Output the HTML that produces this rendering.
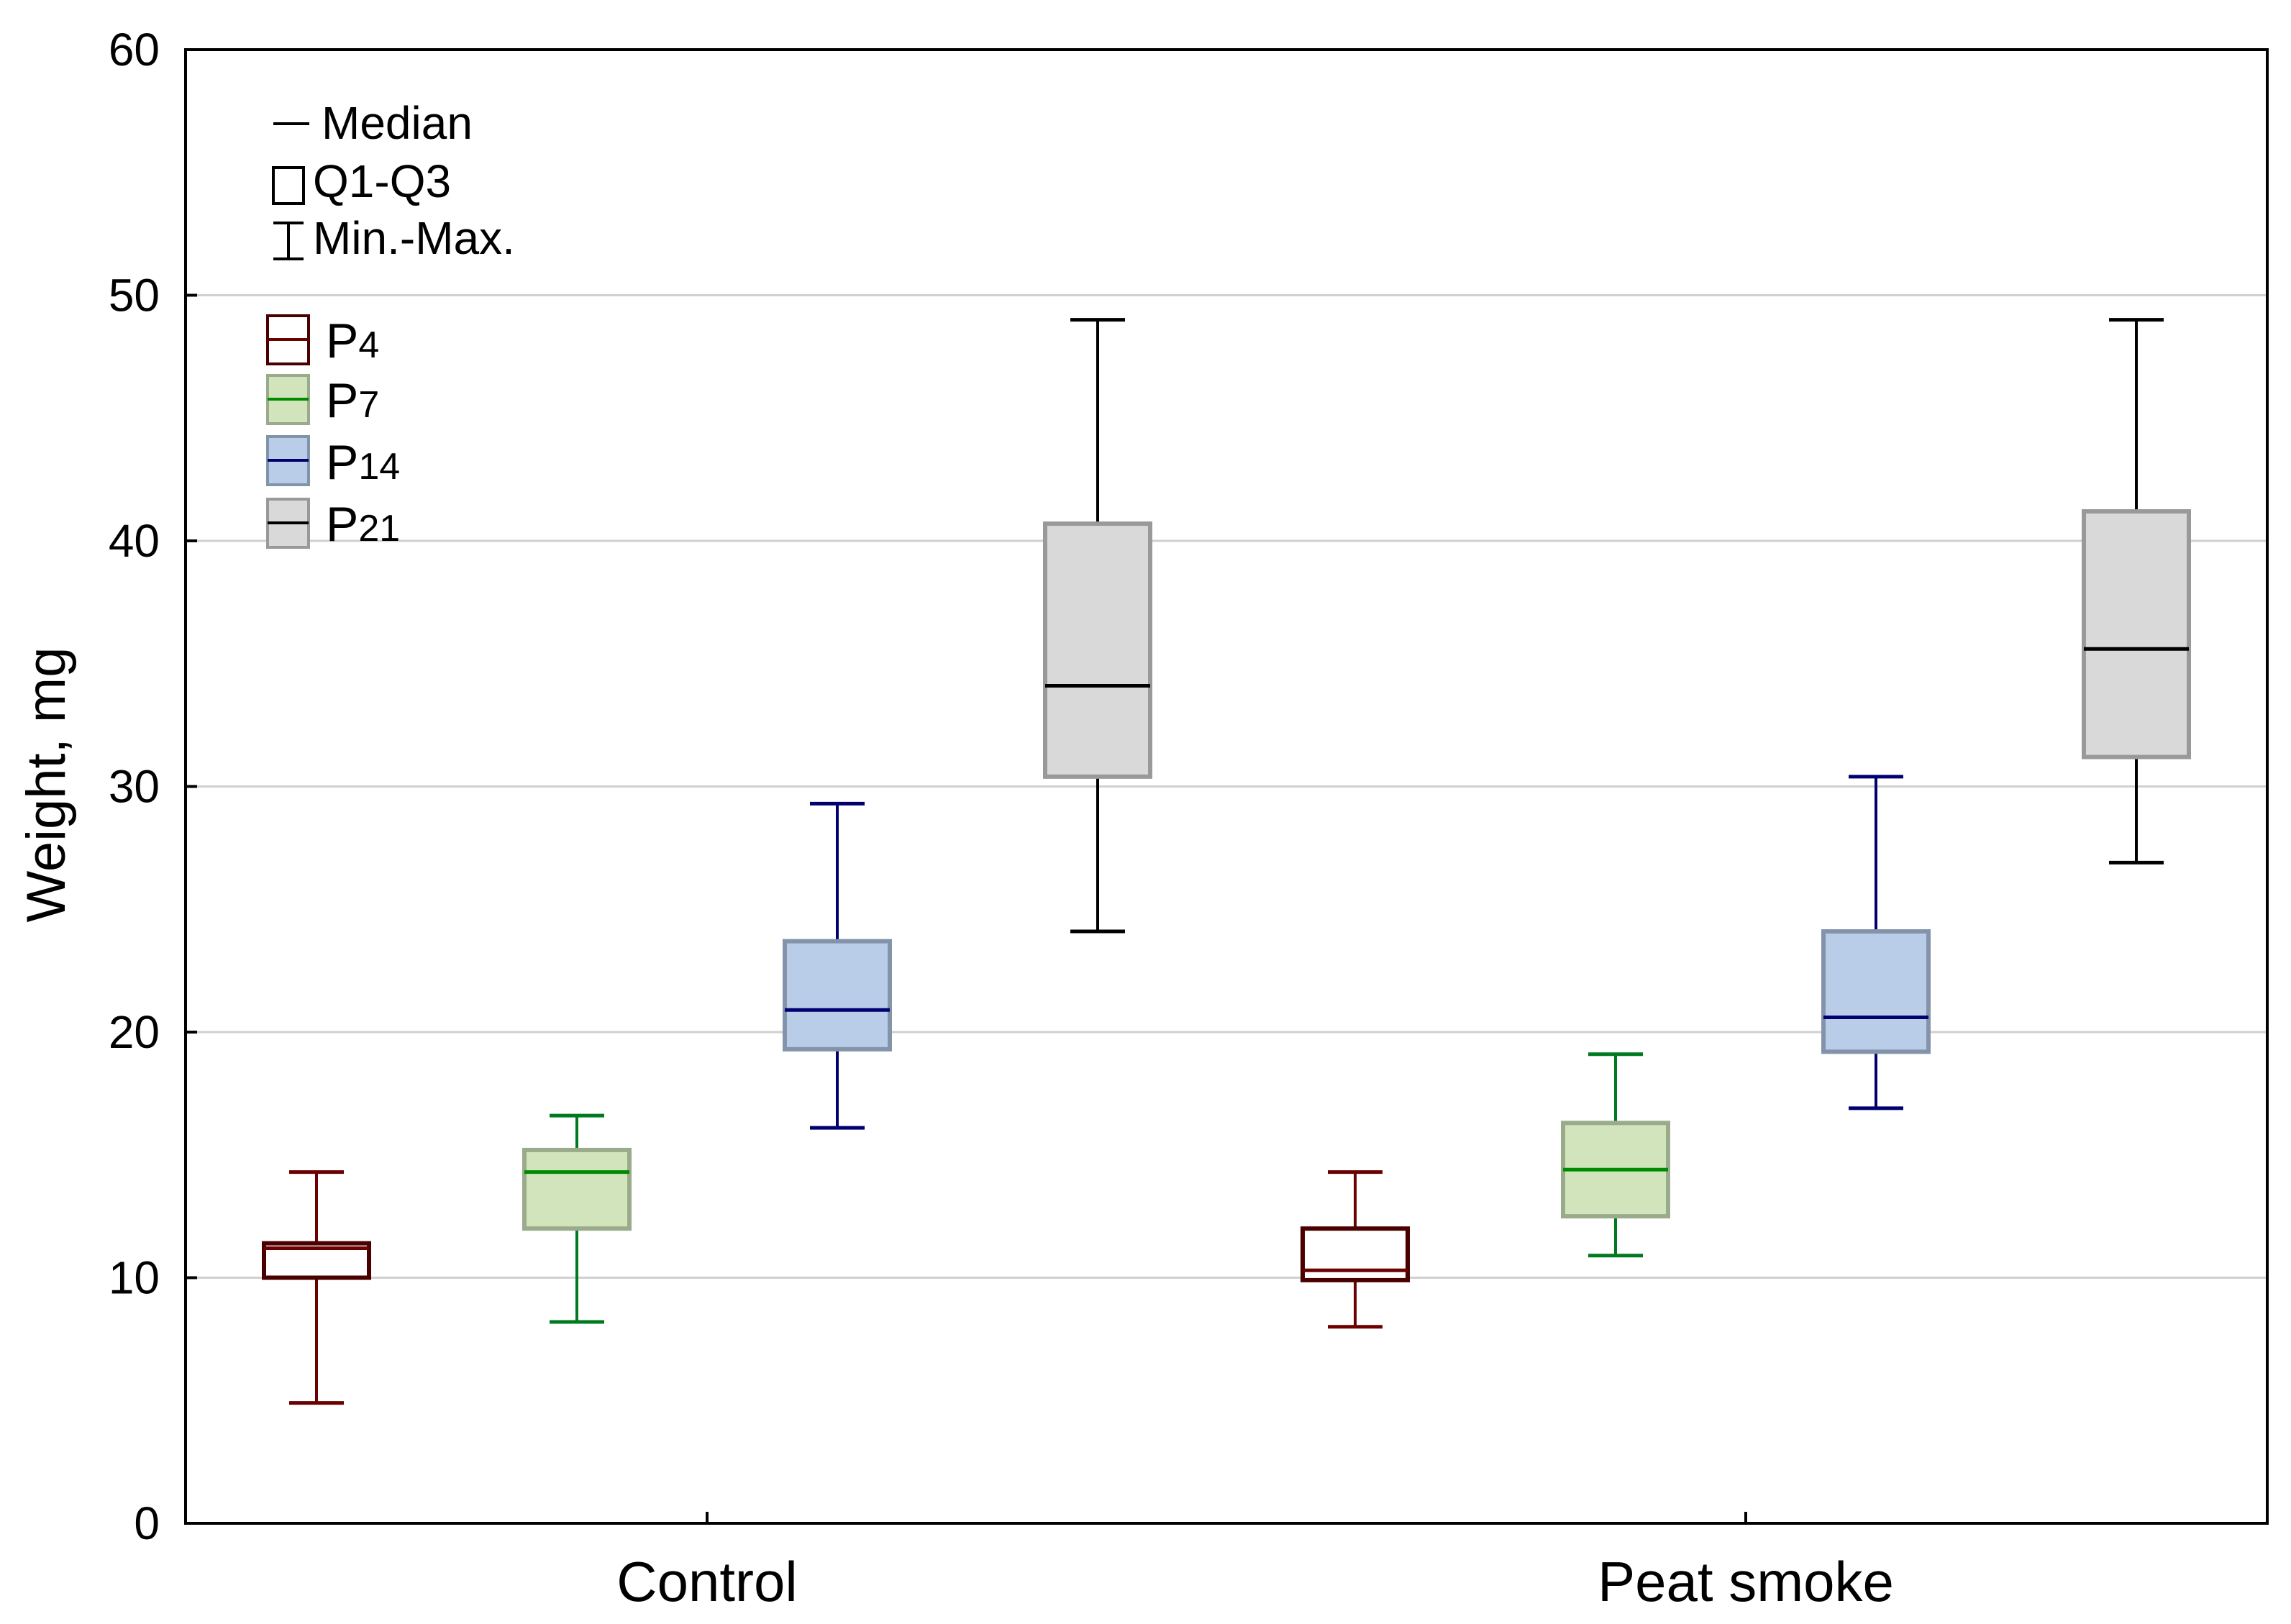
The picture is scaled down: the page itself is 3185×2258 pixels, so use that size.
<!DOCTYPE html>
<html><head><meta charset="utf-8"><style>
html,body{margin:0;padding:0;background:#fff;}
svg text{font-family:"Liberation Sans",Arial,sans-serif;fill:#000;}
</style></head><body>
<svg id="chart" width="3185" height="2253" viewBox="0 0 3185 2253" xmlns="http://www.w3.org/2000/svg">
<g id="grid"></g>
<g id="boxes"></g>
<rect x="258" y="69" width="2894" height="2049" fill="none" stroke="#000" stroke-width="4"/>
<g id="yaxis"></g>
<g id="xaxis"></g>
<text transform="translate(90,1091) rotate(-90)" text-anchor="middle" font-size="76">Weight, mg</text>
<g>
  <line x1="380" y1="172" x2="430" y2="172" stroke="#000" stroke-width="4"/>
  <text x="447" y="193" font-size="64">Median</text>
  <rect x="380" y="233" width="42" height="50" fill="none" stroke="#000" stroke-width="4"/>
  <text x="435" y="274" font-size="64">Q1-Q3</text>
  <path d="M380 310 H422 M401 310 V360 M380 360 H422" stroke="#000" stroke-width="4" fill="none"/>
  <text x="435" y="353" font-size="64">Min.-Max.</text>
  <rect x="372" y="439" width="57" height="67" fill="#fff" stroke="#4a0000" stroke-width="4"/>
  <line x1="372" y1="472" x2="429" y2="472" stroke="#6b0000" stroke-width="4"/>
  <text x="453" y="497" font-size="68">P<tspan font-size="52">4</tspan></text>
  <rect x="372" y="522" width="57" height="67" fill="#d2e4bc" stroke="#9aab8c" stroke-width="4"/>
  <line x1="372" y1="555" x2="429" y2="555" stroke="#008a00" stroke-width="4"/>
  <text x="453" y="580" font-size="68">P<tspan font-size="52">7</tspan></text>
  <rect x="372" y="607" width="57" height="67" fill="#b9cde8" stroke="#8394aa" stroke-width="4"/>
  <line x1="372" y1="640" x2="429" y2="640" stroke="#000070" stroke-width="4"/>
  <text x="453" y="666" font-size="68">P<tspan font-size="52">14</tspan></text>
  <rect x="372" y="694" width="57" height="67" fill="#d9d9d9" stroke="#999" stroke-width="4"/>
  <line x1="372" y1="727" x2="429" y2="727" stroke="#000" stroke-width="4"/>
  <text x="453" y="752" font-size="68">P<tspan font-size="52">21</tspan></text>
</g>
</svg>
<script>
const groups = ["Control", "Peat smoke"];
const series = ["P4", "P7", "P14", "P21"];
const mins    = [[4.9, 8.2, 16.1, 24.1], [8.0, 10.9, 16.9, 26.9]];
const q1s     = [[10.0, 12.0, 19.3, 30.4], [9.9, 12.5, 19.2, 31.2]];
const medians = [[11.2, 14.3, 20.9, 34.1], [10.3, 14.4, 20.6, 35.6]];
const q3s     = [[11.4, 15.2, 23.7, 40.7], [12.0, 16.3, 24.1, 41.2]];
const maxs    = [[14.3, 16.6, 29.3, 49.0], [14.3, 19.1, 30.4, 49.0]];
const yTicks  = [0, 10, 20, 30, 40, 50, 60];

const NS = "http://www.w3.org/2000/svg";
const L = 258, R = 3152, T = 69, B = 2118;
const y = v => B - (v - 0) / 60 * (B - T);
const groupCenters = [983, 2427];
const slot = 362;
const x = (g, s) => groupCenters[g] + (s - 1.5) * slot;
const styles = [
  {fill:"#fff", stroke:"#4a0000", med:"#6b0000", wh:"#6b0000"},
  {fill:"#d2e4bc", stroke:"#9aab8c", med:"#008a00", wh:"#007a20"},
  {fill:"#b9cde8", stroke:"#8394aa", med:"#000070", wh:"#000070"},
  {fill:"#d9d9d9", stroke:"#999", med:"#000", wh:"#000"}
];
function mk(tag, attrs, parent) {
  const e = document.createElementNS(NS, tag);
  for (const k in attrs) e.setAttribute(k, attrs[k]);
  parent.appendChild(e);
  return e;
}
const grid = document.getElementById("grid");
const yaxis = document.getElementById("yaxis");
yTicks.forEach(t => {
  if (t > 0 && t < 60) {
    const gl = mk("line", {x1:L, x2:R, y1:y(t), y2:y(t), stroke:"#d0d0d0", "stroke-width":3}, grid);
    
    
  }
  const tk = mk("line", {x1:L, x2:L+16, y1:y(t), y2:y(t), stroke:"#000", "stroke-width":4}, yaxis);
  
  
  const tx = mk("text", {x:222, y:y(t)+22, "text-anchor":"end", "font-size":64}, yaxis);
  tx.textContent = t;
  
  
});
const xaxis = document.getElementById("xaxis");
groups.forEach((g, i) => {
  const tk = mk("line", {x1:groupCenters[i], x2:groupCenters[i], y1:B, y2:B-16, stroke:"#000", "stroke-width":4}, xaxis);
  
  
  const tx = mk("text", {x:groupCenters[i], y:2226, "text-anchor":"middle", "font-size":78}, xaxis);
  tx.textContent = g;
  
  
});
const boxes = document.getElementById("boxes");
const bw = 146, cw = 76;
groups.forEach((g, gi) => {
  series.forEach((s, si) => {
    const st = styles[si];
    const cx = x(gi, si);
    const grp = mk("g", {}, boxes);
    
    
    mk("line", {x1:cx, x2:cx, y1:y(maxs[gi][si]), y2:y(q3s[gi][si]), stroke:st.wh, "stroke-width":4}, grp);
    mk("line", {x1:cx, x2:cx, y1:y(q1s[gi][si]), y2:y(mins[gi][si]), stroke:st.wh, "stroke-width":4}, grp);
    mk("line", {x1:cx-cw/2, x2:cx+cw/2, y1:y(maxs[gi][si]), y2:y(maxs[gi][si]), stroke:st.wh, "stroke-width":5}, grp);
    mk("line", {x1:cx-cw/2, x2:cx+cw/2, y1:y(mins[gi][si]), y2:y(mins[gi][si]), stroke:st.wh, "stroke-width":5}, grp);
    mk("rect", {x:cx-bw/2, y:y(q3s[gi][si]), width:bw, height:y(q1s[gi][si])-y(q3s[gi][si]), fill:st.fill, stroke:st.stroke, "stroke-width":6}, grp);
    mk("line", {x1:cx-bw/2, x2:cx+bw/2, y1:y(medians[gi][si]), y2:y(medians[gi][si]), stroke:st.med, "stroke-width":5}, grp);
  });
});
</script>
</body></html>
